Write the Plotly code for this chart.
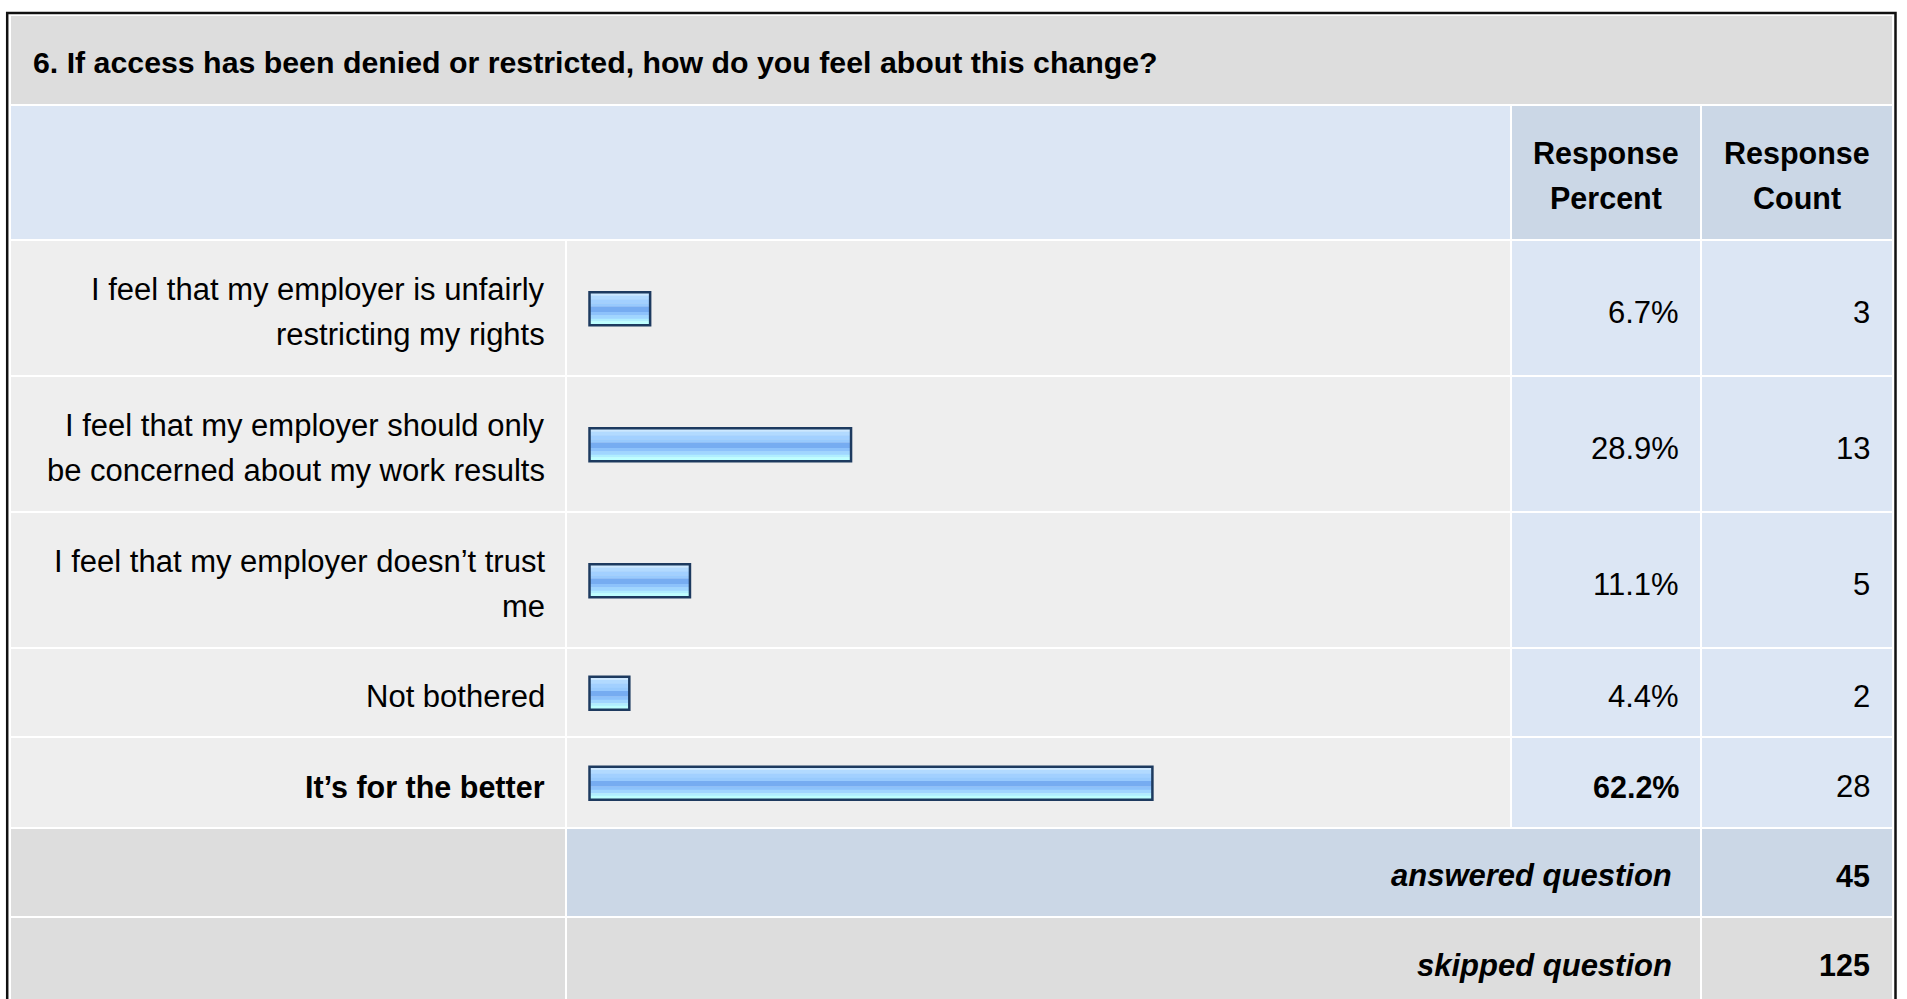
import plotly.graph_objects as go

# ---------------- data ----------------
labels = [
    "I feel that my employer is unfairly<br>restricting my rights",
    "I feel that my employer should only<br>be concerned about my work results",
    "I feel that my employer doesn’t trust<br>me",
    "Not bothered",
    "It’s for the better",
]
percent = [6.7, 28.9, 11.1, 4.4, 62.2]
counts = [3, 13, 5, 2, 28]
title_text = "6. If access has been denied or restricted, how do you feel about this change?"
header_percent = "Response<br>Percent"
header_count = "Response<br>Count"
answered_label = "answered question"
skipped_label = "skipped question"
answered_count = 45
skipped_count = 125

# ---------------- layout constants (pixels) ----------------
W, H = 1907, 999
FONT = "Liberation Sans, Arial, Helvetica, sans-serif"
TXT = "#000000"

TITLE_ROW = (16, 104)
HEADER_ROW = (106, 239)
ROW_EDGES = [(241, 375), (377, 511), (513, 647), (649, 736), (738, 827)]
ANSWER_ROW = (829, 916)
SKIP_ROW = (918, 1008)

COL_LABEL = (11, 565)
COL_BAR = (567, 1510)
COL_PCT = (1512, 1700)
COL_CNT = (1702, 1892)

GRAY = "#DDDDDD"
LIGHT = "#EEEEEE"
BLUE = "#DCE6F4"
BLUE_DK = "#CBD7E6"
NAVY = "#1D3A5F"

BAR_ZERO_PX = 589.5
PX_PER_PCT = 9.05
BAR_RECT_H = 33.0
BAR_LINE_W = 2.5
STRIPES = [
    (0.00, 0.10, "#CDE8FF"),
    (0.10, 0.21, "#B2DAFF"),
    (0.21, 0.33, "#A2D0FF"),
    (0.33, 0.43, "#98CAFD"),
    (0.43, 0.60, "#76ACF1"),
    (0.60, 0.70, "#8DC2FB"),
    (0.70, 0.80, "#A0D6FF"),
    (0.80, 0.88, "#B0EEFF"),
    (0.88, 1.00, "#BDFFFF"),
]

LINE_GAP = 45
TEXT_SHIFT = 4


def center(edge):
    return (edge[0] + edge[1]) / 2.0


shapes = []


def cell(col, row, color):
    shapes.append(dict(
        type="rect", xref="paper", yref="y", layer="below",
        x0=col[0] / W, x1=col[1] / W, y0=row[0], y1=row[1],
        fillcolor=color, line=dict(width=0),
    ))


annotations = []


def text_lines(text, x_px, yc, xanchor, size, weight="normal", style="normal", gap=LINE_GAP):
    lines = text.split("<br>")
    n = len(lines)
    for i, ln in enumerate(lines):
        annotations.append(dict(
            text=ln, x=x_px / W, y=yc + TEXT_SHIFT + (i - (n - 1) / 2.0) * gap,
            xref="paper", yref="y", xanchor=xanchor, yanchor="middle",
            showarrow=False, borderpad=0,
            font=dict(family=FONT, size=size, color=TXT, weight=weight, style=style),
        ))


# title + header
cell((COL_LABEL[0], COL_CNT[1]), TITLE_ROW, GRAY)
cell((COL_LABEL[0], COL_BAR[1]), HEADER_ROW, BLUE)
cell(COL_PCT, HEADER_ROW, BLUE_DK)
cell(COL_CNT, HEADER_ROW, BLUE_DK)

# body rows
for r in ROW_EDGES:
    cell(COL_LABEL, r, LIGHT)
    cell(COL_BAR, r, LIGHT)
    cell(COL_PCT, r, BLUE)
    cell(COL_CNT, r, BLUE)

# summary rows
cell(COL_LABEL, ANSWER_ROW, GRAY)
cell((COL_BAR[0], COL_PCT[1]), ANSWER_ROW, BLUE_DK)
cell(COL_CNT, ANSWER_ROW, BLUE_DK)
cell(COL_LABEL, SKIP_ROW, GRAY)
cell((COL_BAR[0], COL_PCT[1]), SKIP_ROW, GRAY)
cell(COL_CNT, SKIP_ROW, GRAY)

# outer frame
shapes.append(dict(
    type="rect", xref="paper", yref="y", layer="above",
    x0=7.2 / W, x1=1895.5 / W, y0=13, y1=1030,
    fillcolor="rgba(0,0,0,0)", line=dict(color="#111111", width=2.5),
))

# texts
text_lines(title_text, 31.5, center(TITLE_ROW) - 2, "left", 30.3, weight="bold")
text_lines(header_percent, (COL_PCT[0] + COL_PCT[1]) / 2, center(HEADER_ROW) - 1, "center", 30.5,
           weight="bold", gap=44)
text_lines(header_count, (COL_CNT[0] + COL_CNT[1]) / 2, center(HEADER_ROW) - 1, "center", 30.5,
           weight="bold", gap=44)

top = max(percent)
for lab, p, c, r in zip(labels, percent, counts, ROW_EDGES):
    is_top = p == top
    w = "bold" if is_top else "normal"
    sz = 30.5 if is_top else 31
    text_lines(lab, 545.5, center(r), "right", sz, weight=w)
    text_lines(f"{p:.1f}%", 1679.5, center(r), "right", sz, weight=w)
    text_lines(str(c), 1871, center(r), "right", 31)

text_lines(answered_label, 1673, center(ANSWER_ROW) - 1, "right", 31, weight="bold", style="italic")
text_lines(str(answered_count), 1871, center(ANSWER_ROW) - 1, "right", 30.5, weight="bold")
text_lines(skipped_label, 1673, center(SKIP_ROW) - 2, "right", 31, weight="bold", style="italic")
text_lines(str(skipped_count), 1871, center(SKIP_ROW) - 2, "right", 30.5, weight="bold")

# ---------------- bars ----------------
bar_y = [center(r) + 0.75 for r in ROW_EDGES]
fig = go.Figure()
for f0, f1, col in STRIPES:
    fig.add_trace(go.Bar(
        x=percent, y=bar_y, orientation="h",
        width=(f1 - f0) * BAR_RECT_H + 0.3, offset=-BAR_RECT_H / 2 + f0 * BAR_RECT_H,
        marker=dict(color=col, line=dict(width=0)),
        hoverinfo="skip", showlegend=False,
    ))
fig.add_trace(go.Bar(
    x=percent, y=bar_y, orientation="h",
    width=BAR_RECT_H, offset=-BAR_RECT_H / 2,
    marker=dict(color="rgba(0,0,0,0)", line=dict(color=NAVY, width=BAR_LINE_W)),
    hoverinfo="skip", showlegend=False,
))

fig.update_layout(
    width=W, height=H,
    margin=dict(l=0, r=0, t=0, b=0, pad=0),
    paper_bgcolor="#FFFFFF", plot_bgcolor="#FFFFFF",
    barmode="overlay",
    showlegend=False,
    xaxis=dict(domain=[0, 1], range=[-BAR_ZERO_PX / PX_PER_PCT, (W - BAR_ZERO_PX) / PX_PER_PCT],
               visible=False, showgrid=False, zeroline=False, fixedrange=True),
    yaxis=dict(domain=[0, 1], range=[H, 0], visible=False, showgrid=False,
               zeroline=False, fixedrange=True),
    shapes=shapes,
    annotations=annotations,
)

fig.write_html(
    "out.html",
    config={"displayModeBar": False, "staticPlot": True},
    post_script="document.body.style.margin='0';document.body.style.overflow='hidden';",
)
